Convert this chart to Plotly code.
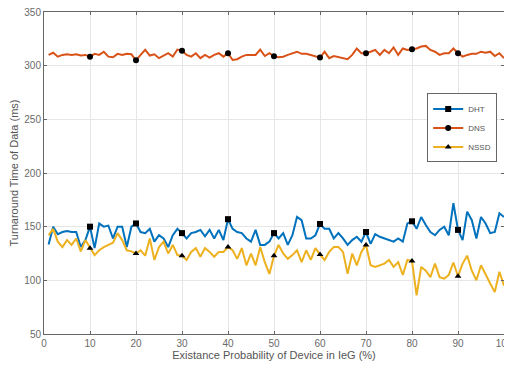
import plotly.graph_objects as go

x = list(range(1, 101))

dht = [133.4, 150, 143, 145, 146, 145, 145, 131, 137.5, 150,
       130, 153, 150, 151, 139, 150, 150, 131, 150, 153,
       145, 144, 148, 136, 142, 139, 131, 142, 148, 144,
       139, 144, 145, 147, 141, 147, 139, 147, 137.5, 157,
       148, 145, 144, 139, 136, 147, 133, 133, 136, 144,
       139, 144, 133, 142, 159, 156, 139, 139, 142, 152.5,
       148, 148, 139, 144, 139, 133, 137.5, 140.6, 136, 145,
       134, 143, 140.6, 139, 137.5, 136, 139, 136, 153, 155,
       148, 159, 151.5, 145, 142, 147, 150, 142, 172, 147,
       137.5, 164, 156, 139, 159, 153, 144, 145, 162.5, 159]

dns = [310, 312, 308.4, 310, 310.6, 310, 310.6, 309.4, 310, 308.4,
       311, 310, 313, 308.4, 307.8, 311, 310, 311, 310.6, 305,
       310, 314.7, 309.4, 310.6, 307, 309, 311.6, 308.4, 315, 314,
       310, 308.4, 311.6, 307, 310, 307.5, 310, 311.6, 308.4, 311.6,
       305.3, 306, 308.4, 310, 310, 310, 315, 309, 311.6, 308.8,
       307.8, 308.4, 310, 311.6, 313, 311, 311, 310, 308.4, 307.5,
       313, 307, 309, 307.8, 307, 306, 310, 316, 311.6, 311.6,
       313, 314.7, 310, 314.7, 311.6, 317, 310, 316, 314.7, 315.3,
       316, 317.8, 318.4, 314.7, 313, 310, 311.6, 311.6, 316, 311.6,
       308.4, 310, 311, 311, 313, 312, 313, 309, 311.6, 307]

nssd = [142, 148, 136, 131, 137.5, 133, 139, 127, 137.5, 130,
        123.5, 128, 131, 133, 135, 144, 137.5, 128, 127, 125,
        128, 123, 139, 119, 131, 136, 125, 133, 123.5, 123,
        119, 126.5, 130, 122, 130, 126.5, 122, 126.5, 126.5, 131,
        128, 120, 130, 114, 125, 114, 131, 117, 106, 123,
        133, 125, 120, 123.5, 128, 117, 128, 119, 130, 124,
        119, 126.5, 131, 131, 126.5, 106, 125, 114, 126.5, 133,
        114, 112.5, 114, 115.6, 119, 112.5, 117, 105, 119, 118,
        86, 112.5, 109, 103, 115.6, 103, 101.6, 105, 116.6, 103.8,
        115.6, 123, 109, 100, 114, 105, 97, 89, 108, 95]

marker_x = [10, 20, 30, 40, 50, 60, 70, 80, 90]

series = [
    ("DHT", dht, "#0072BD", "square"),
    ("DNS", dns, "#D95319", "circle"),
    ("NSSD", nssd, "#EDB120", "triangle-up"),
]

fig = go.Figure()
for name, vals, col, sym in series:
    fig.add_trace(go.Scatter(
        x=x, y=vals, name=name, mode="lines", legendgroup=name, showlegend=False,
        line=dict(color=col, width=2),
    ))
    mx = [xi for xi in x if xi in marker_x]
    my = [v for xi, v in zip(x, vals) if xi in marker_x]
    fig.add_trace(go.Scatter(
        x=mx, y=my, name=name, mode="markers", legendgroup=name, showlegend=False,
        marker=dict(symbol=sym, size=6, color="black", line=dict(width=0)),
    ))
    # legend entry (line + marker)
    fig.add_trace(go.Scatter(
        x=[None], y=[None], name=name, mode="lines+markers", legendgroup=name,
        line=dict(color=col, width=2),
        marker=dict(symbol=sym, size=6, color="black", line=dict(width=0)),
    ))

axis_common = dict(
    showgrid=True, gridcolor="#e6e6e6", gridwidth=1,
    showline=True, linecolor="#666666", linewidth=1, mirror="ticks",
    ticks="inside", ticklen=3, tickcolor="#666666",
    tickfont=dict(size=10, color="#6a6a6a"),
    ticklabeloverflow="allow",
    zeroline=False, automargin=False,
)

# page body adds an 8px offset; figure sized to fit the 512x367 window
fig.update_layout(
    width=504, height=359,
    margin=dict(l=36, r=8, t=4, b=33),
    paper_bgcolor="white", plot_bgcolor="white",
    font=dict(family="Liberation Sans, Arial, sans-serif", color="#555555"),
    xaxis=dict(range=[0, 100], dtick=10,
               title=dict(text="Existance Probability of Device in IeG (%)", font=dict(size=11, color="#555555"), standoff=2),
               **axis_common),
    yaxis=dict(range=[50, 350], dtick=50,
               title=dict(text="Turnaround Time of Data (ms)", font=dict(size=11, color="#555555"), standoff=4),
               **axis_common),
    legend=dict(x=0.833, y=0.64, xanchor="left", yanchor="middle",
                bgcolor="white", bordercolor="#666666", borderwidth=1,
                font=dict(size=8, color="#555555"),
                itemwidth=30, tracegroupgap=0),
    showlegend=True,
)

fig.write_html("out.html")
